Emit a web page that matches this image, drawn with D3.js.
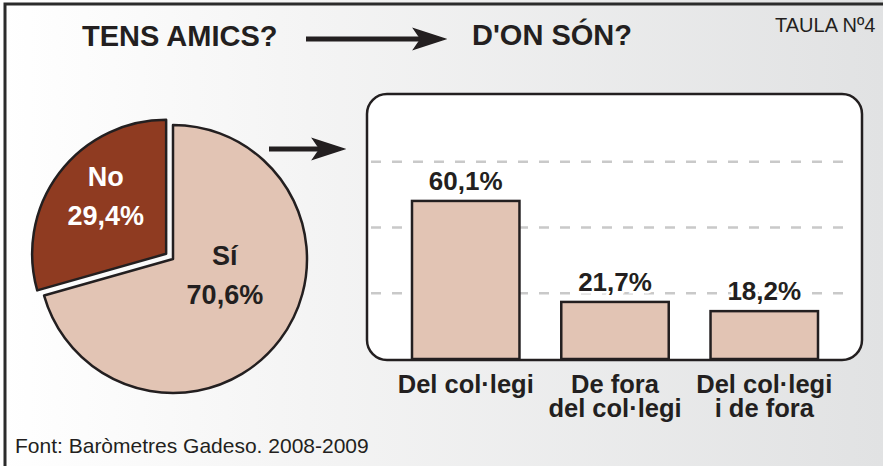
<!DOCTYPE html>
<html>
<head>
<meta charset="utf-8">
<script src="https://cdn.jsdelivr.net/npm/d3@7"></script>
<style>
  html, body { margin: 0; padding: 0; background: #fff; }
  text { font-family: "Liberation Sans", Arial, sans-serif; }
</style>
</head>
<body>
<div id="chart"></div>
<script>
(function(){
  // pie: do you have friends?
  const pieLabels = ["Sí", "No"];
  const pieValues = [70.6, 29.4];
  const pieValueText = ["70,6%", "29,4%"];

  // bars: where are they from?
  const barCategories = [["Del col·legi"], ["De fora", "del col·legi"], ["Del col·legi", "i de fora"]];
  const barValues = [60.1, 21.7, 18.2];
  const barValueText = ["60,1%", "21,7%", "18,2%"];
  const gridTicks = [25, 50, 75];

  const W = 883, H = 466;
  const ink = "#231f20";

  const svg = d3.select("#chart")
    .append("svg")
    .attr("width", W)
    .attr("height", H);

  // background gradient
  const defs = svg.append("defs");
  const grad = defs.append("linearGradient")
    .attr("id", "bg")
    .attr("x1", "0").attr("x2", "1").attr("y1", "0").attr("y2", "0");
  grad.append("stop").attr("offset", "0").attr("stop-color", "#ffffff");
  grad.append("stop").attr("offset", "0.35").attr("stop-color", "#f4f4f4");
  grad.append("stop").attr("offset", "1").attr("stop-color", "#e1e2e3");

  svg.append("rect")
    .attr("width", W).attr("height", H)
    .attr("fill", "url(#bg)");

  // outer frame
  svg.append("rect")
    .attr("x", 5).attr("y", 4)
    .attr("width", W + 20).attr("height", H + 20)
    .attr("fill", "none")
    .attr("stroke", "#2b2b2b")
    .attr("stroke-width", 3);

  // titles
  svg.append("text")
    .attr("x", 82).attr("y", 46)
    .attr("font-size", 29).attr("font-weight", "bold")
    .attr("fill", ink)
    .text("TENS AMICS?");

  svg.append("text")
    .attr("x", 472).attr("y", 45)
    .attr("font-size", 29).attr("font-weight", "bold")
    .attr("fill", ink)
    .text("D'ON SÓN?");

  svg.append("text")
    .attr("x", 775).attr("y", 32)
    .attr("font-size", 20)
    .attr("fill", ink)
    .text("TAULA Nº4");

  svg.append("text")
    .attr("x", 15).attr("y", 453)
    .attr("font-size", 21)
    .attr("fill", ink)
    .text("Font: Baròmetres Gadeso. 2008-2009");

  // arrows
  function arrow(x1, x2, y) {
    const g = svg.append("g");
    g.append("line")
      .attr("x1", x1).attr("x2", x2 - 24)
      .attr("y1", y).attr("y2", y)
      .attr("stroke", ink).attr("stroke-width", 5);
    g.append("path")
      .attr("d", `M${x2},${y} L${x2 - 31},${y - 10} L${x2 - 24},${y} L${x2 - 31},${y + 10} Z`)
      .attr("fill", ink)
      .attr("stroke", ink)
      .attr("stroke-width", 1.5)
      .attr("stroke-linejoin", "miter");
  }
  arrow(306, 445, 39);
  arrow(269, 344, 149);

  // pie
  const cx = 173, cy = 259, r = 134;
  const pieColors = ["#e2c4b4", "#8f3b21"];
  const labelColors = [ink, "#ffffff"];
  const explode = [0, 8.6];
  const labelR = [55, 82];
  const labelNudge = [[8, -16], [5, -7]];

  const pie = d3.pie().sort(null).value(d => d)(pieValues);
  const arc = d3.arc().innerRadius(0).outerRadius(r);

  const pieG = svg.append("g").attr("transform", `translate(${cx},${cy})`);
  const slices = pieG.selectAll("g.slice")
    .data(pie)
    .enter()
    .append("g")
    .attr("class", "slice")
    .attr("transform", (d, i) => {
      const a = (d.startAngle + d.endAngle) / 2;
      return `translate(${Math.sin(a) * explode[i]},${-Math.cos(a) * explode[i]})`;
    });

  slices.append("path")
    .attr("d", arc)
    .attr("fill", (d, i) => pieColors[i])
    .attr("stroke", ink)
    .attr("stroke-width", 2.5)
    .attr("stroke-linejoin", "round");

  slices.each(function(d, i) {
    const la = d3.arc().innerRadius(labelR[i]).outerRadius(labelR[i]);
    const c = la.centroid(d);
    const x = c[0] + labelNudge[i][0], y = c[1] + labelNudge[i][1];
    const t = d3.select(this).append("text")
      .attr("text-anchor", "middle")
      .attr("font-size", 27).attr("font-weight", "bold")
      .attr("fill", labelColors[i]);
    t.append("tspan").attr("x", x).attr("y", y - 11).text(pieLabels[i]);
    t.append("tspan").attr("x", x).attr("y", y + 28).text(pieValueText[i]);
  });

  // bar panel
  const box = { x: 367, y: 94, w: 495, h: 266 };
  svg.append("rect")
    .attr("x", box.x).attr("y", box.y)
    .attr("width", box.w).attr("height", box.h)
    .attr("rx", 20).attr("ry", 20)
    .attr("fill", "#ffffff");

  const xScale = d3.scaleBand()
    .domain(d3.range(barValues.length))
    .range([412, 818])
    .paddingInner(0.28)
    .paddingOuter(0);

  const yScale = d3.scaleLinear()
    .domain([0, 100])
    .range([359, 96]);

  svg.append("g")
    .selectAll("line")
    .data(gridTicks)
    .enter()
    .append("line")
    .attr("x1", box.x + 4).attr("x2", box.x + box.w - 12)
    .attr("y1", d => yScale(d)).attr("y2", d => yScale(d))
    .attr("stroke", "#c9c9c9")
    .attr("stroke-width", 2.5)
    .attr("stroke-dasharray", "10,11");

  svg.append("g")
    .selectAll("rect")
    .data(barValues)
    .enter()
    .append("rect")
    .attr("x", (d, i) => xScale(i))
    .attr("y", d => yScale(d))
    .attr("width", xScale.bandwidth())
    .attr("height", d => yScale(0) - yScale(d))
    .attr("fill", "#e2c4b4")
    .attr("stroke", ink)
    .attr("stroke-width", 2.5);

  svg.append("g")
    .selectAll("text")
    .data(barValues)
    .enter()
    .append("text")
    .attr("x", (d, i) => xScale(i) + xScale.bandwidth() / 2)
    .attr("y", d => yScale(d) - 11)
    .attr("text-anchor", "middle")
    .attr("font-size", 26).attr("font-weight", "bold")
    .attr("fill", ink)
    .attr("stroke", "#ffffff").attr("stroke-width", 5)
    .attr("paint-order", "stroke")
    .text((d, i) => barValueText[i]);

  // panel border on top of bars
  svg.append("rect")
    .attr("x", box.x).attr("y", box.y)
    .attr("width", box.w).attr("height", box.h)
    .attr("rx", 20).attr("ry", 20)
    .attr("fill", "none")
    .attr("stroke", ink)
    .attr("stroke-width", 2.5);

  // category labels
  const catG = svg.append("g");
  barCategories.forEach((lines, i) => {
    lines.forEach((ln, j) => {
      catG.append("text")
        .attr("x", xScale(i) + xScale.bandwidth() / 2)
        .attr("y", 393 + j * 23.5)
        .attr("text-anchor", "middle")
        .attr("font-size", 25.5).attr("font-weight", "bold")
        .attr("fill", ink)
        .text(ln);
    });
  });
})();
</script>
</body>
</html>
